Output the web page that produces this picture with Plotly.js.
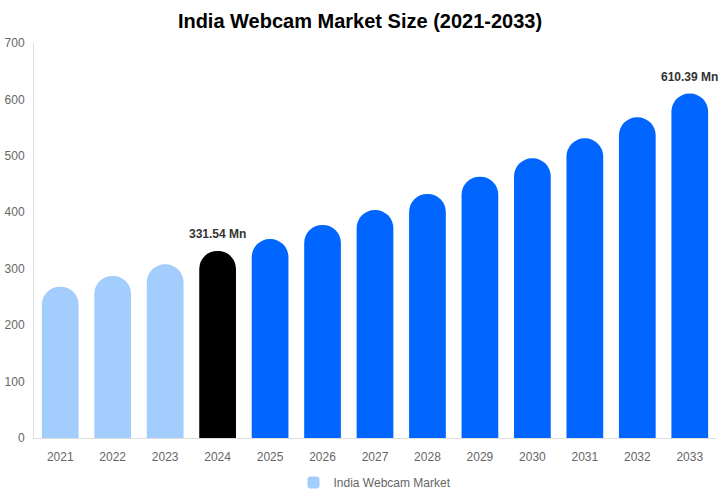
<!DOCTYPE html>
<html>
<head>
<meta charset="utf-8">
<script src="https://cdn.plot.ly/plotly-3.0.1.min.js"></script>
<style>
  body { margin: 0; background: #fff; }
  #chart { width: 720px; height: 500px; }
</style>
</head>
<body>
<div id="chart"></div>
<script>
var years = ["2021", "2022", "2023", "2024", "2025", "2026", "2027",
             "2028", "2029", "2030", "2031", "2032", "2033"];
var marketSize = [268.1, 287.1, 307.8, 331.54, 352.6, 377.5, 404.0,
                  432.4, 463.0, 495.7, 531.0, 568.3, 610.39];
var barColors = ["#a2cdfd", "#a2cdfd", "#a2cdfd", "#000000",
                 "#0066ff", "#0066ff", "#0066ff", "#0066ff", "#0066ff",
                 "#0066ff", "#0066ff", "#0066ff", "#0066ff"];
var labelYears = ["2024", "2033"];
var labelTexts = ["331.54 Mn", "610.39 Mn"];

var CHART = document.getElementById("chart");

var data = [
    {
        x: years,
        y: marketSize,
        type: 'bar',
        name: 'India Webcam Market',
        width: 0.7,
        marker: { color: barColors, cornerradius: '50%' },
        hoverinfo: 'x+y',
    },
];

// on a category axis a numeric-looking string is read as an index, so pass the index
var annotations = labelYears.map(function (yr, i) {
    var idx = years.indexOf(yr);
    return {
        x: idx,
        y: marketSize[idx],
        text: '<b>' + labelTexts[i] + '</b>',
        showarrow: false,
        yanchor: 'bottom',
        yshift: 8,
        font: { family: 'Liberation Sans, Arial, sans-serif', size: 12, color: '#333' },
    };
});

var layout = {
    width: 720,
    height: 500,
    margin: { l: 34, r: 4, t: 43, b: 62 },
    font: { family: 'Liberation Sans, Arial, sans-serif', size: 12, color: '#666' },
    title: {
        text: '<b>India Webcam Market Size (2021-2033)</b>',
        font: { size: 20, color: '#000' },
        x: 0.5,
        y: 0.958,
        yanchor: 'middle',
    },
    xaxis: {
        type: 'category',
        range: [-0.5, 12.5],
        showline: true,
        linecolor: '#ddd',
        linewidth: 1,
        ticks: '',
        showgrid: false,
        ticklabelstandoff: 8,
    },
    yaxis: {
        range: [0, 700],
        dtick: 100,
        showline: true,
        linecolor: '#ddd',
        linewidth: 1,
        showgrid: false,
        zeroline: false,
        ticks: '',
        ticklabelstandoff: 6,
    },
    showlegend: true,
    legend: {
        orientation: 'h',
        x: 0.5,
        xanchor: 'center',
        yref: 'container',
        y: 0.035,
        yanchor: 'middle',
        font: { size: 12, color: '#666' },
    },
    annotations: annotations,
    plot_bgcolor: '#fff',
    paper_bgcolor: '#fff',
};

var config = { responsive: false, displayModeBar: false };
Plotly.newPlot(CHART, data, layout, config);
</script>
</body>
</html>
